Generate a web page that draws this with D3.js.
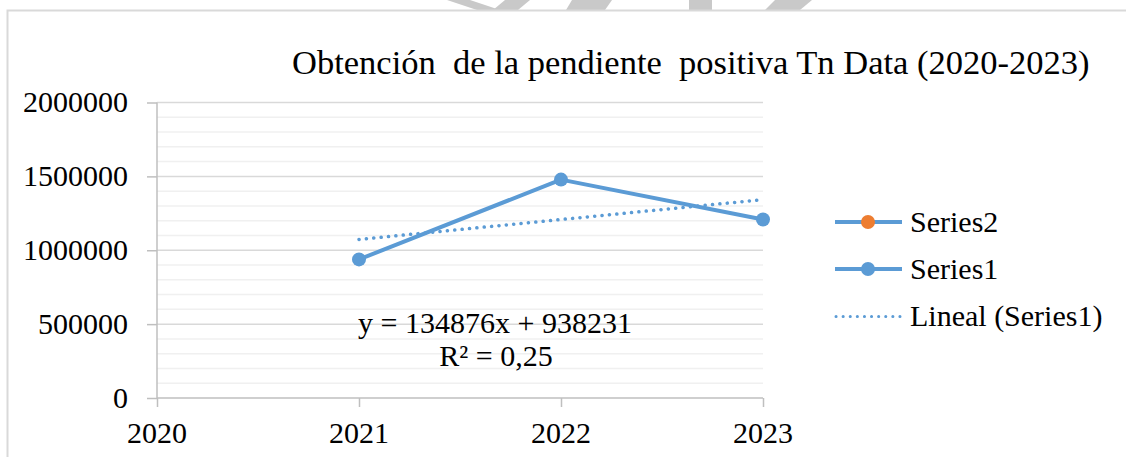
<!DOCTYPE html>
<html><head><meta charset="utf-8"><script src="https://cdn.jsdelivr.net/npm/d3@7"></script></head>
<body style="margin:0">
<svg id="s" width="1126" height="457"></svg>
<script>
// Chart data
const years = [2020, 2021, 2022, 2023];
const xTickLabels = ["2020", "2021", "2022", "2023"];
const series1Years = [2021, 2022, 2023];
const series1Values = [938000, 1478200, 1207750];
const series2Values = [];
const yTicks = [0, 500000, 1000000, 1500000, 2000000];
const trendSlope = 134876;
const trendIntercept = 938231;
const trendR2 = "0,25";
const titleText = "Obtención  de la pendiente  positiva Tn Data (2020-2023)";
const legendLabels = ["Series2", "Series1", "Lineal (Series1)"];

const blue = "#5b9bd5";
const orange = "#ed7d31";
const fontName = "Liberation Serif";

const svg = d3.select("#s");

// Applies the serif face and size to a text selection
function serifText(sel, size) {
  return sel.attr("font-size", size)
    .style("font-family", `"${fontName}"`)
    .attr("fill", "#000");
}

// Decorative grey strips along the top edge
const deco = [
  [[447,0],[470,0],[500,10],[477,10]],
  [[505,0],[530,0],[518,10],[493,10]],
  [[572,0],[612,0],[605,10],[566,10]],
  [[689,0],[712,0],[712,10],[689,10]],
  [[775,0],[812,0],[800,10],[765,10]]
];
svg.selectAll("polygon.deco").data(deco).join("polygon")
  .attr("class", "deco")
  .attr("points", d => d.map(p => p.join(",")).join(" "))
  .attr("fill", "#c9c9c9");

// Chart frame
svg.append("path")
  .attr("d", "M7.5,460 V10.5 H1130")
  .attr("fill", "none")
  .attr("stroke", "#d9d9d9")
  .attr("stroke-width", 2);

const x = d3.scaleLinear().domain([2020, 2023]).range([157, 763]);
const y = d3.scaleLinear().domain([0, 2000000]).range([398, 102.5]);

// Minor gridlines every 100000
const minor = d3.range(100000, 2000001, 100000).filter(v => v % 500000 !== 0);
svg.append("g").selectAll("line").data(minor).join("line")
  .attr("x1", x(2020)).attr("x2", x(2023))
  .attr("y1", d => y(d)).attr("y2", d => y(d))
  .attr("stroke", "#f0f0f0").attr("stroke-width", 1.5);

// Major gridlines
svg.append("g").selectAll("line").data(yTicks.filter(v => v > 0)).join("line")
  .attr("x1", x(2020)).attr("x2", x(2023))
  .attr("y1", d => y(d)).attr("y2", d => y(d))
  .attr("stroke", "#d9d9d9").attr("stroke-width", 1.5);

// Y axis: ticks and lines from d3.axisLeft, labels written as plain text
const gy = svg.append("g").attr("transform", `translate(${x(2020)},0)`)
  .call(d3.axisLeft(y).tickValues(yTicks).tickSize(10).tickFormat(""));
gy.select(".domain").attr("stroke", "#bfbfbf").attr("stroke-width", 1.5)
  .attr("d", `M0,${y(2000000)}V${y(0)}`);
gy.selectAll(".tick line").attr("stroke", "#bfbfbf").attr("stroke-width", 1.5);
serifText(svg.append("g").selectAll("text").data(yTicks).join("text"), 30)
  .attr("text-anchor", "end")
  .attr("x", x(2020) - 29)
  .attr("y", d => y(d)).attr("dy", "0.32em")
  .text(d => d3.format("d")(d));

// X axis
const gx = svg.append("g").attr("transform", `translate(0,${y(0)})`)
  .call(d3.axisBottom(x).tickValues(years).tickSize(9).tickFormat(""));
gx.select(".domain").attr("stroke", "#bfbfbf").attr("stroke-width", 1.5)
  .attr("d", `M${x(2020)},0H${x(2023)}`);
gx.selectAll(".tick line").attr("stroke", "#bfbfbf").attr("stroke-width", 1.5);
serifText(svg.append("g").selectAll("text").data(years).join("text"), 30)
  .attr("text-anchor", "middle")
  .attr("x", d => x(d))
  .attr("y", 443)
  .text((d, i) => xTickLabels[i]);

// Linear trend from the fitted equation (x = 1, 2, 3 for 2021..2023)
const trendPts = series1Years.map((yr, i) => [yr, trendSlope * (i + 1) + trendIntercept]);
svg.append("path")
  .datum(trendPts)
  .attr("d", d3.line().x(d => x(d[0])).y(d => y(d[1])))
  .attr("fill", "none")
  .attr("stroke", blue)
  .attr("stroke-width", 3.5)
  .attr("stroke-linecap", "round")
  .attr("stroke-dasharray", "0.1 7.3");

// Series1 line and markers
const s1 = series1Years.map((yr, i) => [yr, series1Values[i]]);
svg.append("path")
  .datum(s1)
  .attr("d", d3.line().x(d => x(d[0])).y(d => y(d[1])))
  .attr("fill", "none")
  .attr("stroke", blue)
  .attr("stroke-width", 4)
  .attr("stroke-linejoin", "round");
svg.append("g").selectAll("circle").data(s1).join("circle")
  .attr("cx", d => x(d[0])).attr("cy", d => y(d[1]))
  .attr("r", 7).attr("fill", blue);

// Title
serifText(svg.append("text"), 34.5)
  .attr("x", 292).attr("y", 74)
  .attr("xml:space", "preserve")
  .text(titleText);

// Trend equation
serifText(svg.append("text"), 30).attr("text-anchor", "middle")
  .attr("x", 495).attr("y", 333)
  .text(`y = ${trendSlope}x + ${trendIntercept}`);
serifText(svg.append("text"), 30).attr("text-anchor", "middle")
  .attr("x", 496).attr("y", 366)
  .text(`R² = ${trendR2}`);

// Legend
const legY = [222, 269, 316.5];
const leg = svg.append("g");
// Series2
leg.append("line").attr("x1", 835).attr("x2", 902).attr("y1", legY[0]).attr("y2", legY[0])
  .attr("stroke", blue).attr("stroke-width", 4);
leg.append("circle").attr("cx", 868).attr("cy", legY[0]).attr("r", 7).attr("fill", orange);
// Series1
leg.append("line").attr("x1", 835).attr("x2", 902).attr("y1", legY[1]).attr("y2", legY[1])
  .attr("stroke", blue).attr("stroke-width", 4);
leg.append("circle").attr("cx", 868).attr("cy", legY[1]).attr("r", 7).attr("fill", blue);
// Trend
leg.append("line").attr("x1", 836).attr("x2", 900).attr("y1", legY[2]).attr("y2", legY[2])
  .attr("stroke", blue).attr("stroke-width", 3).attr("stroke-linecap", "round")
  .attr("stroke-dasharray", "0.1 7");
serifText(leg.selectAll("text").data(legendLabels).join("text"), 30)
  .attr("x", 910).attr("y", (d, i) => legY[i]).attr("dy", "0.33em")
  .text(d => d);
</script>
</body>
</html>
